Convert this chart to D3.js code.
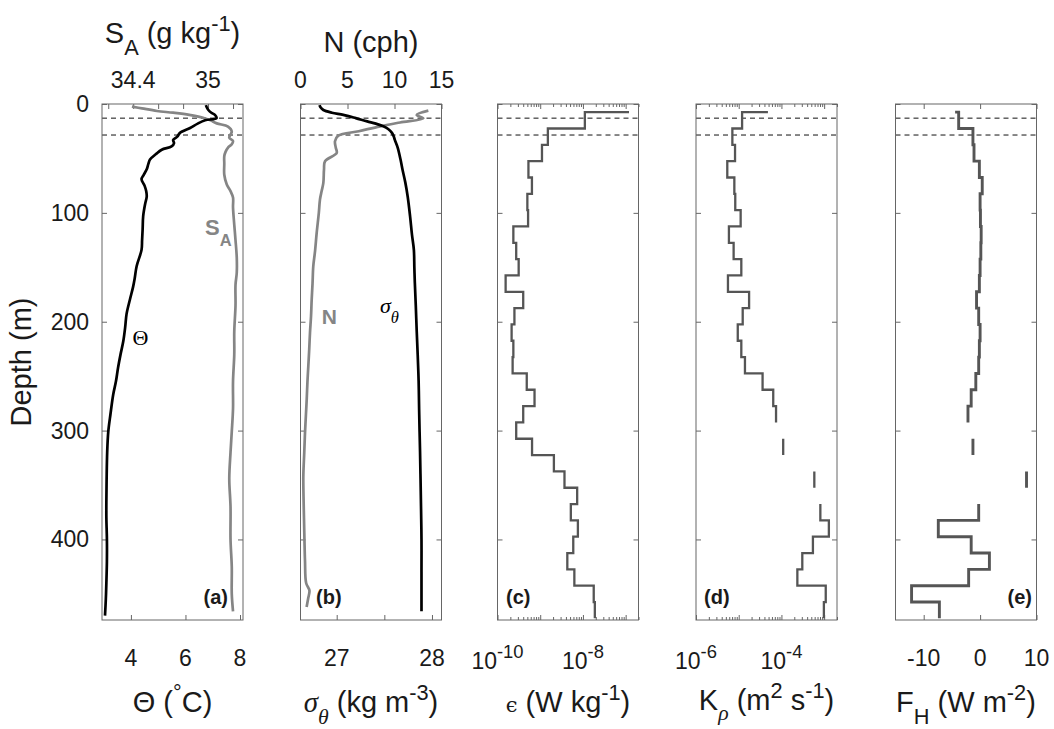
<!DOCTYPE html>
<html>
<head>
<meta charset="utf-8">
<script src="https://d3js.org/d3.v7.min.js"></script>
<style>
  body { margin: 0; background: #fff; }
  svg { display: block; font-family: "Liberation Sans", Arial, sans-serif; }
  text { white-space: pre; }
</style>
</head>
<body>
<svg id="svg" width="1054" height="729"></svg>
<script>
// ---- profiles (depth in m) ----
const thetaDepth = [1, 3, 5.5, 8, 10, 13, 15, 18, 22, 26.5, 30, 33, 36, 39, 42, 46, 51, 55, 60, 65, 69, 75, 80, 85, 92, 103, 115, 125, 134, 149, 160, 168, 180, 193, 205, 218, 230, 242, 255, 267, 285, 301, 320, 344, 365, 380, 400, 420, 440, 455, 470];
const theta = [6.75, 6.78, 6.84, 6.95, 7.08, 7.14, 6.72, 6.45, 6.17, 5.80, 5.70, 5.55, 5.58, 5.49, 5.13, 4.92, 4.70, 4.64, 4.58, 4.47, 4.39, 4.50, 4.56, 4.58, 4.52, 4.45, 4.43, 4.41, 4.39, 4.21, 4.14, 4.08, 3.96, 3.84, 3.79, 3.72, 3.62, 3.53, 3.45, 3.35, 3.25, 3.17, 3.13, 3.11, 3.10, 3.10, 3.12, 3.12, 3.10, 3.08, 3.05];

const saDepth = [2.4, 4, 6.4, 8, 10, 12.6, 15, 17.8, 20.8, 25.4, 28, 31, 34, 37, 40, 44, 48, 55, 65, 74, 80, 86, 95, 111, 125, 141, 155, 166, 185, 209, 230, 255, 280, 301, 320, 344, 370, 400, 425, 450, 466];
const salinity = [34.39, 34.47, 34.59, 34.72, 34.85, 34.96, 35.02, 35.07, 35.16, 35.19, 35.18, 35.17, 35.20, 35.19, 35.16, 35.14, 35.13, 35.13, 35.13, 35.15, 35.18, 35.20, 35.20, 35.21, 35.22, 35.23, 35.23, 35.22, 35.22, 35.21, 35.21, 35.20, 35.20, 35.19, 35.18, 35.17, 35.18, 35.18, 35.19, 35.19, 35.20];

const nDepth = [6.1, 10.1, 13.2, 17, 20.5, 25, 29.1, 34.3, 40, 45, 52.6, 60, 72.5, 80, 87.8, 100, 118.5, 135, 149, 165, 179.7, 195, 210, 225, 241, 255, 271.6, 285, 302, 320, 342, 360, 380, 400, 420, 440, 447, 454, 462];
const buoyancyFreq = [13.6, 12.36, 13.07, 10.6, 8.46, 6.2, 4.02, 3.67, 3.75, 3.85, 2.61, 2.5, 2.43, 2.25, 2.07, 1.95, 1.72, 1.55, 1.36, 1.28, 1.19, 1.12, 1.01, 0.93, 0.83, 0.74, 0.66, 0.58, 0.48, 0.40, 0.30, 0.32, 0.37, 0.42, 0.48, 0.60, 0.95, 0.82, 0.65];

const sigmaDepth = [1, 3, 5.5, 8, 10, 13, 16, 18, 20.5, 23, 26.5, 30, 33, 40, 51, 60, 72, 85, 103, 120, 134, 150, 164, 185, 209, 230, 255, 280, 301, 320, 344, 370, 400, 430, 466];
const sigmaTheta = [26.82, 26.83, 26.86, 26.95, 27.07, 27.20, 27.32, 27.41, 27.49, 27.54, 27.58, 27.60, 27.61, 27.64, 27.67, 27.69, 27.72, 27.745, 27.77, 27.79, 27.81, 27.815, 27.82, 27.83, 27.84, 27.85, 27.86, 27.865, 27.87, 27.875, 27.88, 27.885, 27.89, 27.89, 27.89];

// ---- binned estimates (null = no estimate) ----
const binDepth = [7.5, 22.5, 37.5, 52.5, 67.5, 82.5, 97.5, 112.5, 127.5, 142.5, 157.5, 172.5, 187.5, 202.5, 217.5, 232.5, 247.5, 262.5, 277.5, 292.5, 307.5, 322.5, 337.5, 352.5, 367.5, 382.5, 397.5, 412.5, 427.5, 442.5, 457.5, 472.5];
const epsilon = [1.2e-7, 1.11e-8, 1.51e-9, 1.10e-9, 5.3e-10, 6.4e-10, 5.0e-10, 5.2e-10, 2.35e-10, 2.74e-10, 3.13e-10, 1.55e-10, 4.0e-10, 2.49e-10, 2.14e-10, 2.35e-10, 2.26e-10, 4.84e-10, 7.36e-10, 4.0e-10, 2.74e-10, 6.44e-10, 2.09e-9, 3.7e-9, 7.33e-9, 5.21e-9, 7.62e-9, 5.94e-9, 4.31e-9, 6.3e-9, 1.79e-8, 1.9e-8];
const kRho = [4.83e-5, 1.2e-5, 7.1e-6, 8.2e-6, 5.4e-6, 7.9e-6, 8.3e-6, 1.11e-5, 5.9e-6, 7.6e-6, 1.15e-5, 5.6e-6, 1.75e-5, 1.24e-5, 9.5e-6, 1.15e-5, 1.4e-5, 3.62e-5, 6.43e-5, 7.48e-5, null, 1.1e-4, null, 5.89e-4, null, 8.15e-4, 1.29e-3, 5.46e-4, 3.08e-4, 2.36e-4, 1.09e-3, 9.86e-4];
const heatFlux = [-4.43, -3.8, -1.27, -1.08, -0.13, 0.38, 0, 0.06, 0.19, 0.13, 0, -0.13, -0.63, -0.25, 0, -0.13, -0.25, -0.76, -1.58, -2.15, null, -1.27, null, 8.23, null, -0.25, -7.41, -1.58, 1.65, -2.03, -12.15, -7.22];

const mixedLayerDepths = [13, 28.5];
const depthTicks = [0, 100, 200, 300, 400];

// ---- layout ----
const svg = d3.select('#svg');
const W = 141, TOP = 104, BOTTOM = 620;
const panelLeft = [102, 300.5, 497.5, 696, 895.5];
const AXIS = '#666', INK = '#1a1a1a', GRAY = '#858585', STEP = '#555';
const TICK_FONT = 23, LABEL_FONT = 29;
const span = i => [panelLeft[i], panelLeft[i] + W];

const y = d3.scaleLinear().domain([0, 474]).range([TOP, BOTTOM]);
const xTheta = d3.scaleLinear().domain([2.94, 8.11]).range(span(0));
const xSA = d3.scaleLinear().domain([34.15, 35.28]).range(span(0));
const xSigma = d3.scaleLinear().domain([26.62, 28.10]).range(span(1));
const xN = d3.scaleLinear().domain([0, 15]).range(span(1));
const xEps = d3.scaleLog().domain([1e-10, 2e-7]).range(span(2));
const xK = d3.scaleLog().domain([1e-6, 2e-3]).range(span(3));
const xF = d3.scaleLinear().domain([-15, 10]).range(span(4));

/**
 * Text with sub- and superscripts; parts are strings or {t, sub, sup, ...}
 */
function rich(x, yy, parts, o = {}) {
  const size = o.size || LABEL_FONT;
  const small = o.small || 0.75;
  const t = svg.append('text')
    .attr('x', x).attr('y', yy)
    .attr('text-anchor', o.anchor || 'middle')
    .attr('font-size', size)
    .attr('fill', o.fill || INK);
  if (o.weight) t.attr('font-weight', o.weight);
  if (o.family) t.attr('font-family', o.family);
  if (o.transform) t.attr('transform', o.transform);
  let prev = 0;
  parts.forEach(p => {
    const s = typeof p === 'string' ? {t: p} : p;
    const off = s.sub ? size * (s.drop || 0.42) : s.sup ? -size * (s.rise || 0.42) : 0;
    const ts = t.append('tspan').attr('dy', off - prev).text(s.t);
    if (s.sub || s.sup) ts.attr('font-size', size * small);
    if (s.size) ts.attr('font-size', s.size);
    if (s.family) ts.attr('font-family', s.family);
    if (s.italic) ts.attr('font-style', 'italic');
    prev = off;
  });
  return t;
}

function ticks(axis, tx, ty) {
  svg.append('g').attr('transform', `translate(${tx},${ty})`).call(axis)
    .call(a => a.select('.domain').remove())
    .call(a => a.selectAll('line').attr('stroke', AXIS));
}

function logTicks(scale) {
  const [a, b] = scale.domain(), out = [];
  for (let e = Math.floor(Math.log10(a)); e <= Math.ceil(Math.log10(b)); e++) {
    for (let k = 1; k <= 9; k++) {
      const v = k * Math.pow(10, e);
      if (v >= a * 0.999 && v <= b) out.push(v);
    }
  }
  return out;
}

// matlab-style stairs: horizontal first, then vertical; nulls break the line
function stairs(values, depths) {
  const pts = [];
  values.forEach((v, i) => {
    if (i > 0) pts.push({v, d: depths[i - 1]});
    pts.push({v, d: depths[i]});
  });
  return pts;
}

// ---- frames, dashed mixed-layer lines ----
panelLeft.forEach((x0, i) => {
  ticks(d3.axisRight(y).tickValues(depthTicks).tickSize(5).tickFormat(''), x0, 0);
  ticks(d3.axisLeft(y).tickValues(depthTicks).tickSize(5).tickFormat(''), x0 + W, 0);
  svg.selectAll(null).data(mixedLayerDepths).enter().append('line')
    .attr('x1', x0).attr('x2', x0 + W)
    .attr('y1', d => y(d)).attr('y2', d => y(d))
    .attr('stroke', '#111').attr('stroke-width', 1).attr('stroke-dasharray', '5,4');
});

// panel (a), (b) x ticks
ticks(d3.axisBottom(xSA).tickValues([34.2, 34.4, 34.6, 34.8, 35, 35.2]).tickSize(5).tickFormat(''), 0, TOP);
ticks(d3.axisTop(xTheta).tickValues([4, 6, 8]).tickSize(5).tickFormat(''), 0, BOTTOM);
ticks(d3.axisBottom(xN).tickValues([0, 5, 10, 15]).tickSize(5).tickFormat(''), 0, TOP);
ticks(d3.axisTop(xSigma).tickValues([27, 27.5, 28]).tickSize(5).tickFormat(''), 0, BOTTOM);

// log panels: major + minor ticks top and bottom
[xEps, xK].forEach(sc => {
  const all = logTicks(sc);
  const major = all.filter(v => Math.abs(Math.log10(v) - Math.round(Math.log10(v))) < 1e-6);
  const minor = all.filter(v => !major.includes(v));
  ticks(d3.axisBottom(sc).tickValues(major).tickSize(5).tickFormat(''), 0, TOP);
  ticks(d3.axisTop(sc).tickValues(major).tickSize(5).tickFormat(''), 0, BOTTOM);
  ticks(d3.axisBottom(sc).tickValues(minor).tickSize(3).tickFormat(''), 0, TOP);
  ticks(d3.axisTop(sc).tickValues(minor).tickSize(3).tickFormat(''), 0, BOTTOM);
});
ticks(d3.axisBottom(xF).tickValues([-10, 0, 10]).tickSize(5).tickFormat(''), 0, TOP);
ticks(d3.axisTop(xF).tickValues([-10, 0, 10]).tickSize(5).tickFormat(''), 0, BOTTOM);

// ---- profiles ----
function profile(depths, values, xs, color) {
  const line = d3.line()
    .x((d, i) => xs(values[i]))
    .y(d => y(d))
    .curve(d3.curveCatmullRom.alpha(0.5));
  svg.append('path').datum(depths)
    .attr('d', line)
    .attr('fill', 'none').attr('stroke', color)
    .attr('stroke-width', 2.7).attr('stroke-linejoin', 'round');
}
profile(saDepth, salinity, xSA, GRAY);
profile(thetaDepth, theta, xTheta, '#000');
profile(nDepth, buoyancyFreq, xN, GRAY);
profile(sigmaDepth, sigmaTheta, xSigma, '#000');

function stepProfile(values, xs, width) {
  const line = d3.line()
    .defined(p => p.v !== null)
    .x(p => xs(p.v))
    .y(p => y(p.d));
  svg.append('path').datum(stairs(values, binDepth))
    .attr('d', line)
    .attr('fill', 'none').attr('stroke', STEP)
    .attr('stroke-width', width).attr('stroke-linecap', 'butt');
}
stepProfile(epsilon, xEps, 2.3);
stepProfile(kRho, xK, 2.3);
stepProfile(heatFlux, xF, 2.9);

// boxes on top
panelLeft.forEach(x0 => {
  svg.append('rect').attr('x', x0).attr('y', TOP).attr('width', W).attr('height', BOTTOM - TOP)
    .attr('fill', 'none').attr('stroke', AXIS).attr('stroke-width', 1);
});

// ---- tick labels ----
function tickLabel(x, yy, txt, anchor) {
  svg.append('text').attr('x', x).attr('y', yy)
    .attr('text-anchor', anchor || 'middle')
    .attr('font-size', TICK_FONT).attr('fill', INK).text(txt);
}
depthTicks.forEach(d => tickLabel(89, y(d) + 8, String(d), 'end'));
[34.4, 35].forEach(v => tickLabel(xSA(v), 88, String(v)));
[0, 5, 10, 15].forEach(v => tickLabel(xN(v), 88, String(v)));
[4, 6, 8].forEach(v => tickLabel(xTheta(v), 666, String(v)));
[27, 28].forEach(v => tickLabel(xSigma(v), 666, String(v)));
[-10, 0, 10].forEach(v => tickLabel(xF(v), 666, String(v)));
[[xEps, -10], [xEps, -8], [xK, -6], [xK, -4]].forEach(([sc, e]) => {
  rich(sc(Math.pow(10, e)), 669, ['10', {t: String(e), sup: true, rise: 0.5}], {size: TICK_FONT, small: 0.8});
});

// ---- axis labels ----
rich(172.5, 43, ['S', {t: 'A', sub: true, drop: 0.42}, ' (g kg', {t: '-1', sup: true}, ')']);
rich(371, 52, ['N (cph)']);
rich(31, 362, ['Depth (m)'], {transform: 'rotate(-90 31 362)'});

rich(172.5, 712, ['Θ (', {t: '°', sup: true}, 'C)']);
rich(371, 712, [{t: 'σ', family: 'Liberation Serif', italic: true},
  {t: 'θ', sub: true, family: 'Liberation Serif', italic: true, drop: 0.42}, ' (kg m', {t: '-3', sup: true}, ')']);
rich(568, 712, [{t: 'ϵ', family: 'DejaVu Serif', size: 21}, ' (W kg', {t: '-1', sup: true}, ')']);
rich(766.5, 710, ['K', {t: 'ρ', sub: true, family: 'Liberation Serif', italic: true, drop: 0.36},
  ' (m', {t: '2', sup: true}, ' s', {t: '-1', sup: true}, ')']);
rich(966, 712, ['F', {t: 'H', sub: true, drop: 0.4}, ' (W m', {t: '-2', sup: true}, ')']);

// ---- panel letters and curve annotations ----
const letters = [['(a)', 228, 'end'], ['(b)', 316, 'start'], ['(c)', 506, 'start'], ['(d)', 704, 'start'], ['(e)', 1032, 'end']];
letters.forEach(([t, x, a]) => rich(x, 604, [t], {size: 20, weight: 'bold', anchor: a}));

rich(140.5, 345, ['Θ'], {size: 22, family: 'Liberation Serif', fill: '#000'});
rich(205, 235, ['S', {t: 'A', sub: true, drop: 0.5}], {size: 22, weight: 'bold', anchor: 'start', fill: GRAY});
rich(321.7, 324, ['N'], {size: 21, weight: 'bold', anchor: 'start', fill: GRAY});
rich(380, 313, [{t: 'σ'}, {t: 'θ', sub: true, drop: 0.45}],
  {size: 22, family: 'Liberation Serif', anchor: 'start', fill: '#000'}).attr('font-style', 'italic');
</script>
</body>
</html>
